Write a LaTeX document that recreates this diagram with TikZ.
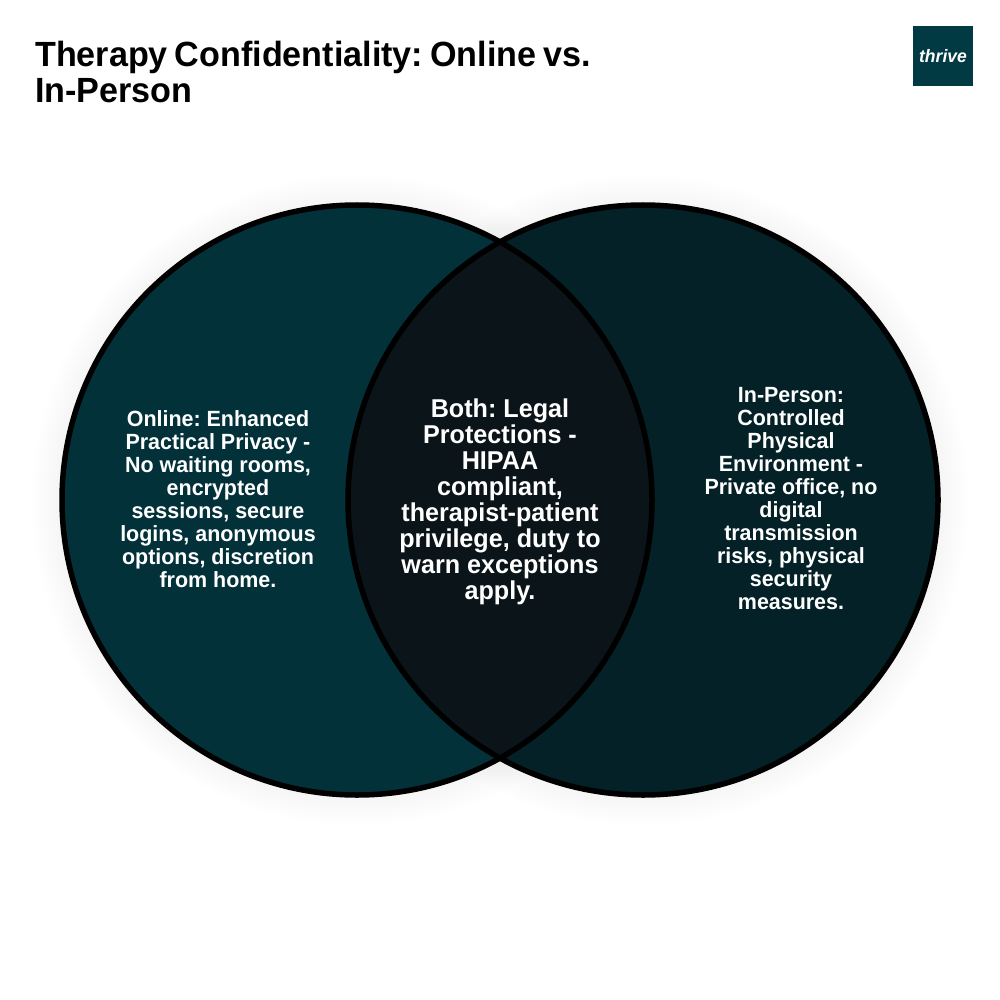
\documentclass[tikz,border=0pt]{standalone}
\usepackage{fontspec}
\setmainfont{Liberation Sans}[FakeStretch=0.975]
\definecolor{lefttone}{HTML}{03313A}
\definecolor{righttone}{HTML}{032126}
\definecolor{midtone}{HTML}{0A1419}
\definecolor{logotone}{HTML}{023A44}
\newcommand{\gap}{\hspace{7pt}}
\tikzset{
  venntext/.style={text=white,align=center,inner sep=0pt,anchor=north},
  small/.style={font=\fontsize{22}{23}\selectfont\bfseries},
  large/.style={font=\fontsize{25.8}{26}\selectfont\bfseries},
  ring/.style={draw=black,line width=5.5pt},
  halo/.style={fill=black,fill opacity=0.005},
  titletext/.style={text=black,align=left,inner sep=0pt,anchor=north west,font=\fontsize{35}{36}\selectfont\bfseries}
}
\frenchspacing
\begin{document}
\begin{tikzpicture}[x=1pt,y=-1pt]
\useasboundingbox (0,0) rectangle (1000,1000);
\fill[white] (0,0) rectangle (1000,1000);
\foreach \r in {298,301,...,325}{
  \fill[halo] (357,500) circle (\r);
  \fill[halo] (643,500) circle (\r);
}
\fill[lefttone] (357,500) circle (295);
\fill[righttone] (643,500) circle (295);
\begin{scope}
  \clip (357,500) circle (295);
  \fill[midtone] (643,500) circle (295);
\end{scope}
\draw[ring] (357,500) circle (295);
\draw[ring] (643,500) circle (295);
\node[titletext] (title) at (35,41) {Therapy\gap Confidentiality:\gap Online\gap vs.\\In-Person};
\node[venntext,small] (online) at (218,410.5) {Online: Enhanced\\Practical Privacy -\\No waiting rooms,\\encrypted\\sessions, secure\\logins, anonymous\\options, discretion\\from home.};
\node[venntext,large] (both) at (500,398.5) {Both: Legal\\Protections -\\HIPAA\\compliant,\\therapist-patient\\privilege, duty to\\warn exceptions\\apply.};
\node[venntext,small] (inperson) at (791,387.5) {In-Person:\\Controlled\\Physical\\Environment -\\Private office, no\\digital\\transmission\\risks, physical\\security\\measures.};
\fill[logotone] (913,26) rectangle (973,86);
\node[text=white,inner sep=0pt,font=\fontsize{18}{18}\selectfont\bfseries\itshape] (logo) at (943,56) {thrive};
\end{tikzpicture}
\end{document}
